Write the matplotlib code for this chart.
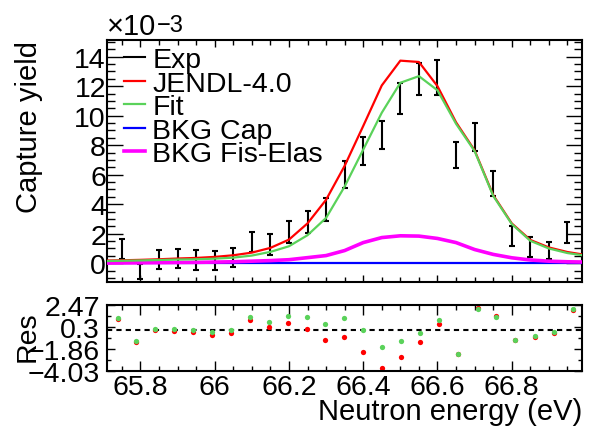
import numpy as np
import matplotlib
matplotlib.use('Agg')
import matplotlib.pyplot as plt
from matplotlib.lines import Line2D
from matplotlib.ticker import MultipleLocator, FixedLocator

plt.rcParams['font.family'] = ['Liberation Sans', 'DejaVu Sans']

# measured capture yield (units of 1e-3)
x_exp = [65.75, 65.80, 65.85, 65.90, 65.95, 66.00, 66.05, 66.10, 66.15, 66.20,
         66.25, 66.30, 66.35, 66.40, 66.45, 66.50, 66.55, 66.60, 66.65, 66.70,
         66.75, 66.80, 66.85, 66.90, 66.95]
y_exp = [0.95, -0.58, 0.27, 0.30, 0.22, 0.18, 0.38, 1.45, 1.25, 2.11,
         2.81, 3.62, 6.00, 7.60, 8.70, 11.17, 12.50, 12.60, 7.35, 8.58,
         5.39, 1.85, 1.09, 0.86, 2.07]
err_exp = [0.68, 0.50, 0.64, 0.65, 0.67, 0.66, 0.65, 0.68, 0.70, 0.75,
           0.76, 0.78, 0.90, 0.93, 0.96, 1.07, 1.10, 1.20, 0.90, 0.94,
           0.86, 0.70, 0.70, 0.60, 0.70]

# model curves (units of 1e-3)
x_curve = [65.70, 65.75, 65.80, 65.85, 65.90, 65.95, 66.00, 66.05, 66.10, 66.15,
           66.20, 66.25, 66.30, 66.35, 66.40, 66.45, 66.50, 66.55, 66.60, 66.65,
           66.70, 66.75, 66.80, 66.85, 66.90, 66.95, 67.00]
y_jendl = [0.18, 0.20, 0.23, 0.27, 0.32, 0.36, 0.43, 0.54, 0.72, 1.04,
           1.60, 2.70, 4.30, 6.60, 9.30, 12.05, 13.73, 13.64, 12.00, 9.55,
           7.65, 4.62, 2.70, 1.58, 1.07, 0.76, 0.56]
y_fit = [0.15, 0.17, 0.19, 0.22, 0.25, 0.27, 0.31, 0.38, 0.52, 0.77,
         1.15, 1.90, 3.07, 5.20, 7.70, 10.20, 12.23, 12.68, 11.72, 9.45,
         7.60, 4.57, 2.66, 1.52, 1.00, 0.69, 0.51]
y_bkg_cap = [0.01, 0.01, 0.01, 0.01, 0.01, 0.01, 0.01, 0.01, 0.01, 0.01,
             0.01, 0.01, 0.01, 0.01, 0.01, 0.01, 0.01, 0.01, 0.01, 0.01,
             0.01, 0.01, 0.01, 0.01, 0.01, 0.01, 0.01]
y_bkg_fis = [0.01, 0.02, 0.03, 0.04, 0.05, 0.06, 0.08, 0.10, 0.14, 0.18,
             0.24, 0.38, 0.52, 0.86, 1.40, 1.74, 1.86, 1.84, 1.68, 1.40,
             0.93, 0.60, 0.37, 0.22, 0.14, 0.10, 0.08]

# residuals
x_res = [65.739, 65.789, 65.839, 65.891, 65.942, 65.993, 66.044, 66.095, 66.145, 66.197,
         66.248, 66.298, 66.349, 66.400, 66.451, 66.503, 66.554, 66.605, 66.655, 66.708,
         66.758, 66.810, 66.863, 66.914, 66.965]
res_jendl = [1.07, -1.17, 0.00, -0.07, -0.23, -0.46, -0.29, 0.98, 0.26, 0.65,
             0.13, -0.94, -0.72, -2.13, -3.74, -2.63, -1.17, 0.62, -2.34, 2.15,
             1.40, -0.94, -0.65, -0.26, 1.95]
res_fit = [1.17, -1.07, 0.13, 0.07, 0.00, -0.16, 0.00, 1.30, 0.78, 1.40,
           1.27, 0.62, 1.14, -0.03, -1.69, -1.11, -0.26, 0.98, -2.34, 2.02,
           1.30, -0.94, -0.59, -0.20, 2.05]

res_ticks = [-4.03, -1.8633, 0.3033, 2.47]
res_ticklabels = ['\u22124.03', '\u22121.86', '0.3', '2.47']
x_ticklabels = ['65.8', '66', '66.2', '66.4', '66.6', '66.8']

red = '#ff0000'
green = '#5ad25a'
blue = '#0000ff'
magenta = '#ff00ff'

fig = plt.figure(figsize=(6.04, 4.31), dpi=100)
ax = fig.add_axes([0.1777, 0.3441, 0.7864, 0.5608])
ax2 = fig.add_axes([0.1777, 0.1362, 0.7864, 0.1545])

# top panel
ax.errorbar(x_exp, y_exp, yerr=err_exp, fmt='none', ecolor='k',
            elinewidth=1.5, capsize=2.5, capthick=1.5, zorder=2)
ax.plot(x_curve, y_bkg_cap, color=blue, lw=1.6, zorder=3)
ax.plot(x_curve, y_bkg_fis, color=magenta, lw=2.6, zorder=3)
ax.plot(x_curve, y_jendl, color=red, lw=1.6, zorder=4)
ax.plot(x_curve, y_fit, color=green, lw=1.6, zorder=5)

ax.set_xlim(65.711, 66.99)
ax.set_ylim(-1.25, 15.13)
ax.xaxis.set_major_locator(FixedLocator([65.8, 66.0, 66.2, 66.4, 66.6, 66.8]))
ax.xaxis.set_minor_locator(MultipleLocator(0.05))
ax.yaxis.set_major_locator(MultipleLocator(2))
ax.yaxis.set_minor_locator(MultipleLocator(0.5))
ax.tick_params(which='both', direction='in', top=True, right=True,
               labelbottom=False, labelsize=20.5, width=1.0)
ax.tick_params(axis='x', which='major', length=5)
ax.tick_params(axis='x', which='minor', length=3.5)
ax.tick_params(axis='y', which='major', length=11.5, pad=1)
ax.tick_params(axis='y', which='minor', length=5.8)
for s in ax.spines.values():
    s.set_linewidth(1.5)

ax.set_ylabel('Capture yield', fontsize=21, loc='top')
ax.yaxis.set_label_coords(-0.135, 1.0)

handles = [Line2D([], [], color='k', lw=1.5),
           Line2D([], [], color=red, lw=1.6),
           Line2D([], [], color=green, lw=1.6),
           Line2D([], [], color=blue, lw=1.6),
           Line2D([], [], color=magenta, lw=2.6)]
labels = ['Exp', 'JENDL-4.0', 'Fit', 'BKG Cap', 'BKG Fis-Elas']
ax.legend(handles, labels, loc='upper left', bbox_to_anchor=(0.035, 0.97),
          frameon=False, fontsize=20.5, handlelength=0.75, handletextpad=0.25,
          labelspacing=-0.09, borderpad=0, borderaxespad=0)

fig.text(107 / 604, 1 - 35 / 431, '\u00d710', fontsize=21, ha='left', va='baseline')
fig.text(157 / 604, 1 - 32 / 431, '\u22123', fontsize=17, ha='left', va='baseline')

# residual panel
ax2.axhline(0, color='k', ls=(0, (2.5, 2)), lw=1.5, zorder=1)
ax2.plot(x_res, res_jendl, 'o', color=red, ms=3.8, mec='none', zorder=2)
ax2.plot(x_res, res_fit, 'o', color=green, ms=3.8, mec='none', zorder=3)
ax2.set_xlim(65.711, 66.99)
ax2.set_ylim(-4.03, 2.47)
ax2.xaxis.set_major_locator(FixedLocator([65.8, 66.0, 66.2, 66.4, 66.6, 66.8]))
ax2.set_xticklabels(x_ticklabels)
ax2.xaxis.set_minor_locator(MultipleLocator(0.05))
ax2.set_yticks(res_ticks)
ax2.set_yticklabels(res_ticklabels)
ax2.yaxis.set_minor_locator(FixedLocator([-2.9467, -0.78, 1.3867]))
ax2.tick_params(which='both', direction='in', top=True, right=True,
                labelsize=20.5, width=1.0)
ax2.tick_params(axis='x', which='major', length=7, pad=2)
ax2.tick_params(axis='x', which='minor', length=3.6)
ax2.tick_params(axis='y', which='major', length=5.8, pad=5.5)
ax2.tick_params(axis='y', which='minor', length=3)
for s in ax2.spines.values():
    s.set_linewidth(1.5)

ax2.set_ylabel('Res', fontsize=20.5)
ax2.yaxis.set_label_coords(-0.14, 0.535)

fig.text(582 / 604, 1 - 420 / 431, 'Neutron energy (eV)', fontsize=21,
         ha='right', va='baseline')

fig.savefig('out.png', dpi=100)
